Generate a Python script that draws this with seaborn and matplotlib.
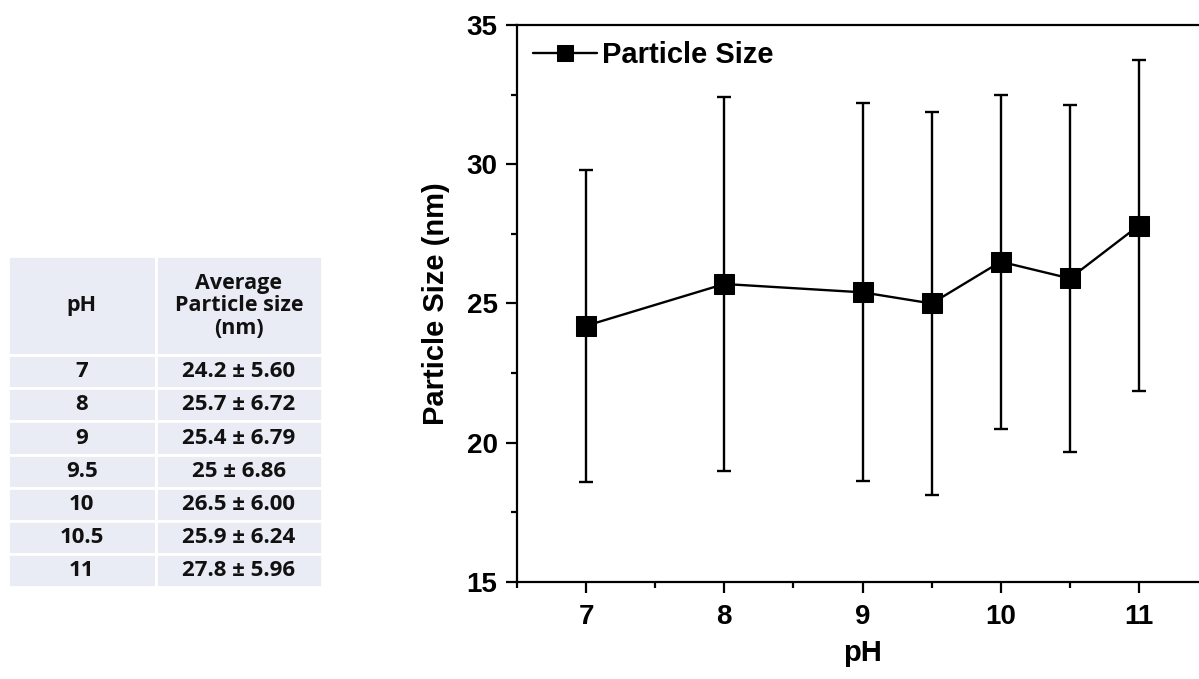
import matplotlib
matplotlib.use("Agg")
import matplotlib.pyplot as plt
from matplotlib.patches import Rectangle
from matplotlib.ticker import MultipleLocator
import pandas as pd
import seaborn as sns

# data
ph = [7, 8, 9, 9.5, 10, 10.5, 11]
ph_labels = ["7", "8", "9", "9.5", "10", "10.5", "11"]
size_mean = [24.2, 25.7, 25.4, 25.0, 26.5, 25.9, 27.8]
size_sd = [5.60, 6.72, 6.79, 6.86, 6.00, 6.24, 5.96]
size_labels = ["24.2 ± 5.60", "25.7 ± 6.72", "25.4 ± 6.79", "25 ± 6.86",
               "26.5 ± 6.00", "25.9 ± 6.24", "27.8 ± 5.96"]
header = ["pH", "Average\nParticle size\n(nm)"]

sns.set_theme(style="ticks")
plt.rcParams["font.family"] = ["Liberation Sans", "DejaVu Sans"]
plt.rcParams["text.color"] = "black"
plt.rcParams["axes.labelcolor"] = "black"
plt.rcParams["xtick.color"] = "black"
plt.rcParams["ytick.color"] = "black"

df = pd.DataFrame({"pH": ph, "size": size_mean, "sd": size_sd})

fig = plt.figure(figsize=(11.99, 6.79), dpi=100)

# ---- chart ----
ax = fig.add_axes([0.4312, 0.1429, 0.5763, 0.8203])
ax.errorbar(df["pH"], df["size"], yerr=df["sd"], fmt="none", ecolor="black",
            elinewidth=1.7, capsize=5, capthick=1.7, zorder=2)
sns.lineplot(data=df, x="pH", y="size", ax=ax, color="black", lw=1.7,
             marker="s", markersize=14, markeredgecolor="black",
             label="Particle Size", zorder=3)
ax.set_xlim(6.5, 11.5)
ax.set_ylim(15, 35)
ax.xaxis.set_major_locator(MultipleLocator(1))
ax.xaxis.set_minor_locator(MultipleLocator(0.5))
ax.yaxis.set_major_locator(MultipleLocator(5))
ax.yaxis.set_minor_locator(MultipleLocator(2.5))
ax.tick_params(which="major", direction="out", length=8, width=1.6,
               labelsize=20, pad=6)
ax.tick_params(axis="x", which="major", pad=8)
ax.tick_params(which="minor", direction="out", length=4, width=1.6)
for lab in ax.get_xticklabels() + ax.get_yticklabels():
    lab.set_fontweight("bold")
for s in ax.spines.values():
    s.set_linewidth(1.6)
    s.set_color("black")
ax.set_xlabel("pH", fontsize=21, fontweight="bold", labelpad=6)
ax.set_ylabel("Particle Size (nm)", fontsize=21, fontweight="bold", labelpad=12)
leg = ax.legend(loc="upper left", frameon=False, handlelength=2.2,
                handletextpad=0.15, borderaxespad=0.15, markerscale=0.8,
                prop={"size": 21, "weight": "bold"})

# ---- table ----
tax = fig.add_axes([0.0067, 0.1355, 0.262, 0.4875])
tax.set_xlim(0, 1)
tax.set_ylim(0, 1)
tax.axis("off")
n = len(ph_labels)
head_h = 0.30
row_h = (1 - head_h) / n
col_split = 0.47
cell_bg = "#e9ebf5"

def cell(x0, y0, w, h, txt, fs):
    tax.add_patch(Rectangle((x0, y0), w, h, facecolor=cell_bg,
                            edgecolor="white", linewidth=2))
    tax.text(x0 + w / 2, y0 + h / 2, txt, ha="center", va="center",
             fontsize=fs, fontweight="bold", family="Open Sans",
             linespacing=1.1, color="#111111")

cell(0, 1 - head_h, col_split, head_h, header[0], 15.5)
cell(col_split, 1 - head_h, 1 - col_split, head_h, header[1], 15.5)
for i in range(n):
    y0 = 1 - head_h - (i + 1) * row_h
    cell(0, y0, col_split, row_h, ph_labels[i], 16)
    cell(col_split, y0, 1 - col_split, row_h, size_labels[i], 16)

fig.savefig("out.png", dpi=100)
